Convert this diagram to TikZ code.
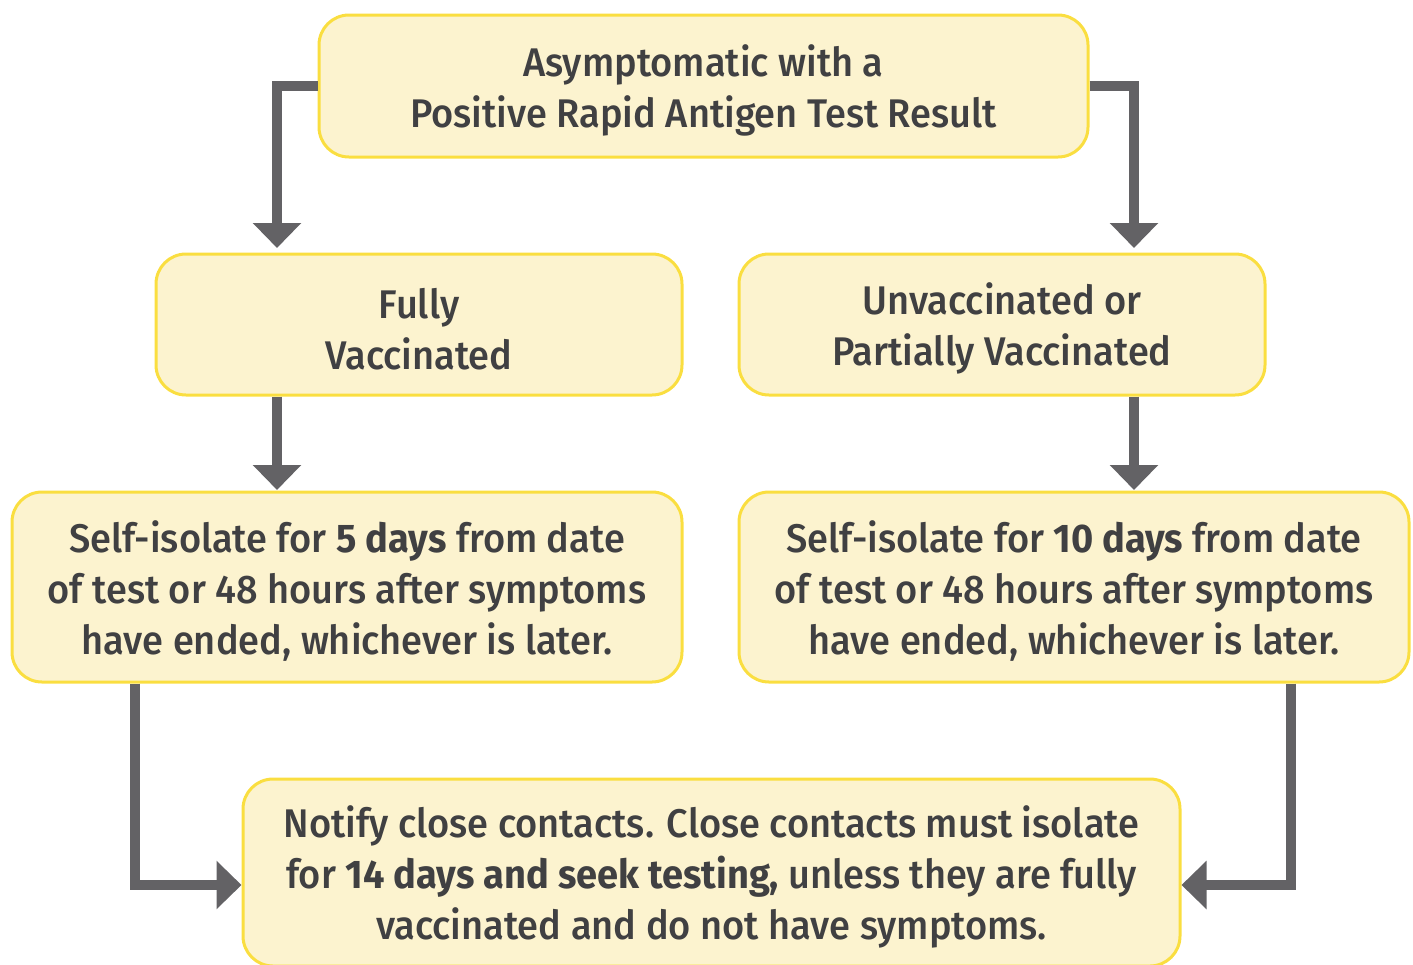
\documentclass[tikz,border=0pt]{standalone}
\usepackage{fontspec}
\setmainfont{Fira Sans}[UprightFont=* Medium, BoldFont=* Bold, FakeStretch=0.95]
\usetikzlibrary{arrows.meta}
\definecolor{boxfill}{RGB}{252,243,207}
\definecolor{boxline}{RGB}{250,222,64}
\definecolor{conncol}{RGB}{99,98,101}
\definecolor{txtcol}{RGB}{64,64,66}
\newcommand{\topstrut}{\rule{0pt}{20pt}}
\tikzset{
  flowbox/.style={draw=boxline, fill=boxfill, line width=1.5pt, rounded corners=15pt,
    align=center, text=txtcol, font=\fontsize{20}{25.5}\selectfont, inner sep=0pt},
  conn/.style={draw=conncol, line width=5pt, line join=miter,
    -{Triangle[width=23.5pt,length=12.5pt]}},
}
\begin{document}
\begin{tikzpicture}[x=0.5pt,y=-0.5pt]
\useasboundingbox (0,0) rectangle (1413,964);
\node[flowbox, minimum width=384.5pt, minimum height=71pt] (top) at (703.5,86)
  {\topstrut Asymptomatic with a\\Positive Rapid Antigen Test Result};
\node[flowbox, minimum width=263pt, minimum height=70.5pt] (fv) at (419,324.5)
  {\topstrut Fully\\Vaccinated};
\node[flowbox, minimum width=263pt, minimum height=70.5pt] (uv) at (1002,324.5)
  {\topstrut Unvaccinated or\\Partially Vaccinated};
\node[flowbox, minimum width=335pt, minimum height=95pt] (s5) at (347,587)
  {\topstrut Self-isolate for \textbf{5 days} from date\\of test or 48 hours after symptoms\\have ended, whichever is later.};
\node[flowbox, minimum width=335pt, minimum height=95pt] (s10) at (1074,587)
  {\topstrut Self-isolate for \textbf{10 days} from date\\of test or 48 hours after symptoms\\have ended, whichever is later.};
\node[flowbox, minimum width=468.5pt, minimum height=93.5pt] (nc) at (711.5,872.5)
  {\topstrut Notify close contacts. Close contacts must isolate\\for \textbf{14 days and seek testing,} unless they are fully\\vaccinated and do not have symptoms.};
\coordinate (t1) at (277,248);
\coordinate (t2) at (1134,248);
\coordinate (m1) at (277,490);
\coordinate (m2) at (1134,490);
\coordinate (b1) at (135,885);
\coordinate (b2) at (1291,885);
\draw[conn] (top.west) -| (t1);
\draw[conn] (top.east) -| (t2);
\draw[conn] (fv.south -| m1) -- (m1);
\draw[conn] (uv.south -| m2) -- (m2);
\draw[conn] (s5.south -| b1) |- (nc.west |- b1);
\draw[conn] (s10.south -| b2) |- (nc.east |- b2);
\end{tikzpicture}
\end{document}
